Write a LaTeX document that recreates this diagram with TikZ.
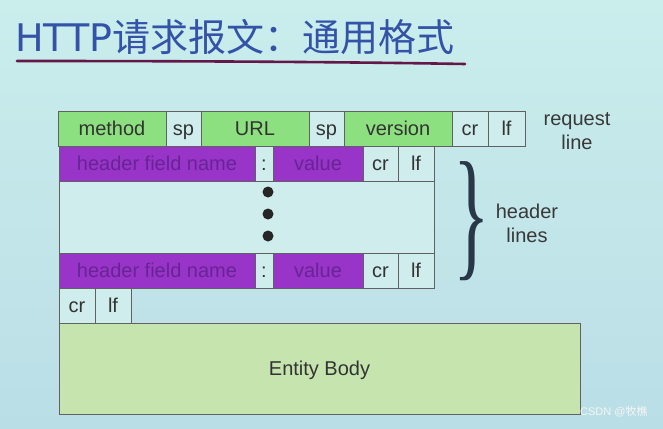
\documentclass[tikz,border=0pt]{standalone}
\usepackage{fontspec}
\setmainfont{Liberation Sans}
\newfontfamily\cjk{Noto Sans CJK SC}
\newfontfamily\titlelatin{DejaVu Sans}
\newfontfamily\bracefont{Liberation Serif}
\usepackage{xcolor}
\usetikzlibrary{positioning}

\definecolor{bgtop}{RGB}{202,238,236}
\definecolor{bgbot}{RGB}{186,222,230}
\definecolor{cellbg}{RGB}{206,237,236}
\definecolor{fieldgreen}{RGB}{141,224,128}
\definecolor{fieldpurple}{RGB}{153,52,200}
\definecolor{textpurple}{RGB}{104,36,150}
\definecolor{bodygreen}{RGB}{198,229,174}
\definecolor{titleblue}{RGB}{52,82,168}
\definecolor{ruleplum}{RGB}{100,24,74}
\definecolor{bracegray}{RGB}{40,56,72}

\newcommand\cellfont{\fontsize{20}{22}\selectfont}

\begin{document}
\begin{tikzpicture}[
  x=1pt,y=-1pt,
  node distance=0pt,
  cell/.style={rectangle,draw=black!62,line width=.7pt,minimum height=35pt,inner sep=0pt,outer sep=0pt,text height=17pt,text depth=4pt,fill=cellbg,text=black!80,font=\cellfont},
  greenfield/.style={cell,fill=fieldgreen},
  purplefield/.style={cell,fill=fieldpurple,text=textpurple},
  sidelabel/.style={align=center,text=black!78,font=\cellfont,inner sep=0pt}]
% background and frame of the slide
\path[use as bounding box,top color=bgtop,bottom color=bgbot] (0,0) rectangle (663,428);
% title
\node[anchor=west,text=titleblue,inner sep=0pt,font=\fontsize{38}{40}\selectfont] (title) at (15,37) {\titlelatin HTTP\cjk 请求报文：通用格式};
\draw[ruleplum,line width=2.6pt,line cap=round] (17,61) .. controls (200,61) and (350,62) .. (465,64);
% request line
\node[greenfield,minimum width=108pt,anchor=north west] (method) at (58,111) {method};
\node[cell,minimum width=35pt,right=of method] (sp1) {sp};
\node[greenfield,minimum width=108pt,right=of sp1] (url) {URL};
\node[cell,minimum width=35pt,right=of url] (sp2) {sp};
\node[greenfield,minimum width=108pt,right=of sp2] (version) {version};
\node[cell,minimum width=36pt,right=of version] (cr1) {cr};
\node[cell,minimum width=37pt,right=of cr1] (lf1) {lf};
\node[sidelabel] (reqlabel) at (577,131) {request\\[2pt]line};
% first header line
\node[purplefield,minimum width=196pt,anchor=north west] (hname1) at (59,146) {header field name};
\node[cell,minimum width=18pt,right=of hname1] (colon1) {:};
\node[purplefield,minimum width=90pt,right=of colon1] (value1) {value};
\node[cell,minimum width=35pt,right=of value1] (cr2) {cr};
\node[cell,minimum width=36pt,right=of cr2] (lf2) {lf};
% gap between header lines
\node[cell,minimum width=375pt,minimum height=72pt,anchor=north west] (gap) at (hname1.south west) {};
\foreach \y in {192,214,236}
  \fill[black!85] (268,\y) circle (5.5pt);
% last header line
\node[purplefield,minimum width=196pt,anchor=north west] (hname2) at (gap.south west) {header field name};
\node[cell,minimum width=18pt,right=of hname2] (colon2) {:};
\node[purplefield,minimum width=90pt,right=of colon2] (value2) {value};
\node[cell,minimum width=35pt,right=of value2] (cr3) {cr};
\node[cell,minimum width=36pt,right=of cr3] (lf3) {lf};
% brace over the header lines
\node[inner sep=0pt,text=bracegray,font=\fontsize{40}{40}\selectfont\bracefont] (brace) at (472,221) {\scalebox{1.9}[3.6]{\}}};
\node[sidelabel] (hdrlabel) at (527,223) {header\\[2pt]lines};
% blank line
\node[cell,minimum width=36pt,anchor=north west] (cr4) at (hname2.south west) {cr};
\node[cell,minimum width=36pt,right=of cr4] (lf4) {lf};
% body
\node[cell,fill=bodygreen,minimum width=521pt,minimum height=91pt,anchor=north west] (body) at (cr4.south west) {Entity Body};
% watermark
\node[anchor=west,inner sep=0pt,text=white!92!gray,font=\fontsize{11}{12}\selectfont] (mark) at (580,412) {CSDN @\cjk 牧樵};
\end{tikzpicture}
\end{document}
